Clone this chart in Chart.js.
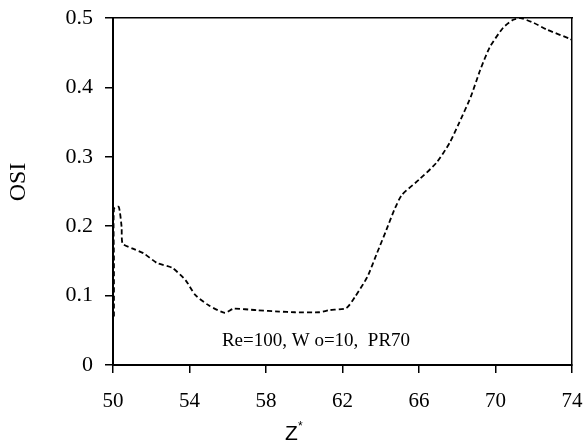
<!DOCTYPE html>
<html>
<head>
<meta charset="utf-8">
<script src="https://cdn.jsdelivr.net/npm/chart.js@4"></script>
<style>
  html, body { margin: 0; padding: 0; background: #fff; }
  #wrap { width: 584px; height: 444px; }
</style>
</head>
<body>
<div id="wrap"><canvas id="osiChart" width="584" height="444"></canvas></div>
<script>
// Z* positions along the vessel and the OSI
const zVals = [50.05, 50.05, 50.05, 50.3, 50.45, 50.5, 51.0, 51.6, 52.3, 53.1, 53.8, 54.3, 55.0, 55.85, 56.3, 57.5, 58.7, 59.5, 60.8, 61.3, 62.2, 62.65, 63.3, 63.8, 64.3, 64.7, 65.1, 66.0, 66.9, 67.6, 68.1, 68.7, 69.2, 69.7, 70.4, 70.9, 71.3, 72.0, 72.7, 73.9, 74.0];
const osiVals = [0.07, 0.15, 0.225, 0.228, 0.199, 0.175, 0.168, 0.161, 0.147, 0.14, 0.122, 0.101, 0.086, 0.075, 0.081, 0.079, 0.077, 0.076, 0.076, 0.079, 0.082, 0.098, 0.127, 0.161, 0.195, 0.223, 0.245, 0.267, 0.291, 0.32, 0.349, 0.386, 0.425, 0.458, 0.486, 0.497, 0.5, 0.493, 0.483, 0.47, 0.468];
const xTicks = [50, 54, 58, 62, 66, 70, 74];
const yTicks = [0, 0.1, 0.2, 0.3, 0.4, 0.5];
const noteText = 'Re=100, W o=10,  PR70';

const serif = 'Liberation Serif, Times New Roman, serif';
const sans = 'Liberation Sans, Arial, sans-serif';

const points = zVals.map((z, i) => ({ x: z, y: osiVals[i] }));

// extra labels: OSI, Z* and the run note
const labelPlugin = {
    id: 'labels',
    afterDraw(chart) {
        const ctx = chart.ctx;
        ctx.save();
        ctx.fillStyle = '#000';

        // run note inside the plot
        ctx.font = '19px ' + serif;
        ctx.textAlign = 'center';
        ctx.textBaseline = 'middle';
        ctx.fillText(noteText, 316, 341);

        // y title
        ctx.save();
        ctx.translate(19, 182);
        ctx.rotate(-Math.PI / 2);
        ctx.font = '24px ' + serif;
        ctx.fillText('OSI', 0, 0);
        ctx.restore();

        // x title with superscript star
        ctx.font = '21px ' + sans;
        ctx.textAlign = 'left';
        ctx.textBaseline = 'alphabetic';
        ctx.fillText('Z', 285, 440);
        ctx.font = '12px ' + sans;
        ctx.fillText('*', 298, 430);
        ctx.restore();
    }
};

new Chart(document.getElementById('osiChart'), {
    type: 'scatter',
    data: {
        datasets: [{
            data: points,
            showLine: true,
            borderColor: '#000',
            borderWidth: 1.8,
            borderDash: [5, 3],
            pointRadius: 0,
            tension: 0.2,
            fill: false
        }]
    },
    options: {
        responsive: false,
        animation: false,
        events: [],
        layout: { padding: { left: 0, right: 12, top: 18, bottom: 0 } },
        plugins: {
            legend: { display: false },
            tooltip: { enabled: false }
        },
        scales: {
            x: {
                type: 'linear',
                position: 'bottom',
                min: 50,
                max: 74,
                afterBuildTicks: s => { s.ticks = xTicks.map(v => ({ value: v })); },
                afterFit: s => { s.height = 444 - 365; s.paddingLeft = 0; s.paddingRight = 0; },
                grid: { display: true, drawOnChartArea: false, drawTicks: true, tickLength: 8, color: '#000', lineWidth: 1.5 },
                border: { display: true, color: '#000', width: 2 },
                ticks: { color: '#000', padding: 16, font: { family: serif, size: 21 }, maxRotation: 0 }
            },
            xTop: {
                type: 'linear',
                position: 'top',
                min: 50,
                max: 74,
                afterFit: s => { s.height = 0; s.paddingLeft = 0; s.paddingRight = 0; },
                grid: { display: false },
                border: { display: true, color: '#000', width: 1.5 },
                ticks: { display: false }
            },
            y: {
                type: 'linear',
                position: 'left',
                min: 0,
                max: 0.5,
                afterBuildTicks: s => { s.ticks = yTicks.map(v => ({ value: v })); },
                afterFit: s => { s.width = 113; s.paddingTop = 0; s.paddingBottom = 0; },
                grid: { display: true, drawOnChartArea: false, drawTicks: true, tickLength: 8, color: '#000', lineWidth: 1.5 },
                border: { display: true, color: '#000', width: 2 },
                ticks: { color: '#000', padding: 12, font: { family: serif, size: 22 }, callback: v => String(Math.round(v * 10) / 10) }
            },
            yRight: {
                type: 'linear',
                position: 'right',
                min: 0,
                max: 0.5,
                afterFit: s => { s.width = 0; },
                grid: { display: false },
                border: { display: true, color: '#000', width: 1.5 },
                ticks: { display: false }
            }
        }
    },
    plugins: [labelPlugin]
});
</script>
</body>
</html>
